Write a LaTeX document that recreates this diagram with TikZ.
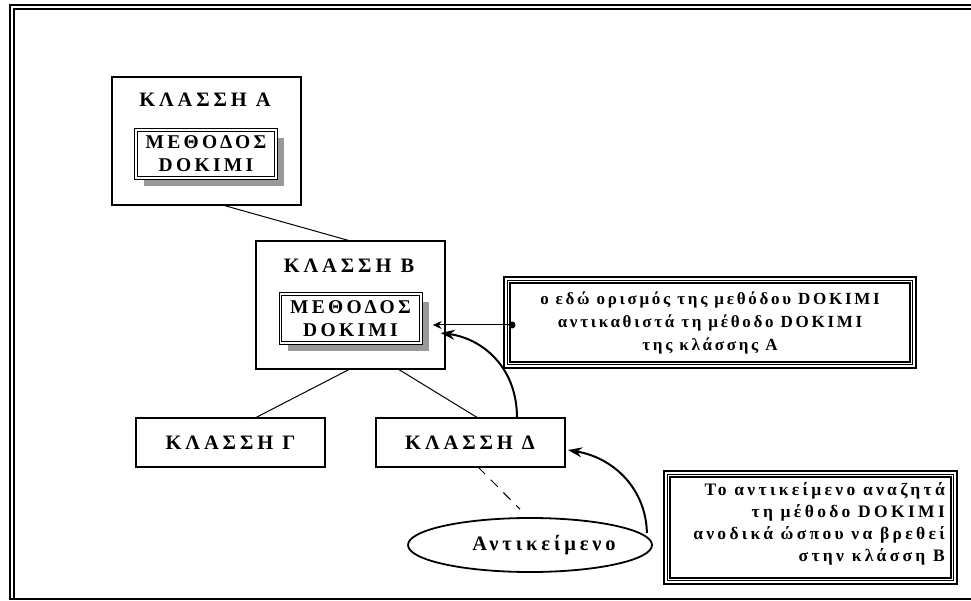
\documentclass[tikz,border=0pt]{standalone}
\usepackage{fontspec}
\setmainfont{Liberation Serif}
\newfontfamily\tfont[LetterSpace=19]{Liberation Serif}
\newfontfamily\mfont[LetterSpace=17]{Liberation Serif}
\newfontfamily\nfont[LetterSpace=16]{Liberation Serif}
\newfontfamily\qfont[LetterSpace=19]{Liberation Serif}
\usetikzlibrary{arrows.meta,shapes.geometric,shadows}
\begin{document}
\begin{tikzpicture}[x=1pt,y=-1pt,
  classbox/.style={draw,line width=2pt,inner sep=0pt,outer sep=0pt,minimum width=189pt,font=\tfont\bfseries\fontsize{20.5}{23}\selectfont},
  bigtxt/.style={font=\tfont\bfseries\fontsize{20.5}{23}\selectfont,inner sep=0pt},
  methbox/.style={draw,line width=1pt,double,double distance=1.6pt,fill=white,outer sep=0pt,inner sep=0pt,
    minimum width=140.4pt,minimum height=48.4pt,align=center,font=\mfont\bfseries\fontsize{19.5}{23}\selectfont,
    drop shadow={shadow xshift=8pt,shadow yshift=-8pt,fill=black!40,opacity=1}},
  notebox/.style={draw,line width=2.2pt,double,double distance=4pt,outer sep=0pt,inner sep=0pt},
  midline/.style={line width=0.9pt},
  notetxt/.style={font=\nfont\bfseries\fontsize{17}{23}\selectfont,inner sep=0pt},
  link/.style={line width=1pt},
  bendarrow/.style={line width=2pt,-{Stealth[length=14pt,width=10pt]}}
]
\useasboundingbox (0,0) rectangle (971,601);
% outer frame
\draw[line width=2pt] (971,5) -- (10,5) -- (10,599) -- (971,599);
\draw[line width=2pt] (971,9.5) -- (13.8,9.5) -- (13.8,598);

% classes
\node[classbox,minimum height=128pt] (A) at (206.5,141) {};
\node[bigtxt] (At) at (205,100) {ΚΛΑΣΣΗ Α};
\node[methbox] (Am) at (206,154) {ΜΕΘΟΔΟΣ\\DOKIMI};

\node[classbox,minimum height=128pt] (B) at (350.5,305) {};
\node[bigtxt] (Bt) at (349,266) {ΚΛΑΣΣΗ Β};
\node[methbox] (Bm) at (350.5,318.5) {ΜΕΘΟΔΟΣ\\DOKIMI};

\node[classbox,minimum height=49pt] (G) at (230.5,442.5) {ΚΛΑΣΣΗ Γ};
\node[classbox,minimum height=49pt] (D) at (470,442.5) {ΚΛΑΣΣΗ Δ};

\node[draw,ellipse,line width=1.8pt,minimum width=244pt,minimum height=54pt,inner sep=0pt] (O) at (530,545) {};
\node[bigtxt] (Ot) at (544,545) {Αντικείμενο};

% notes
\node[notebox,minimum width=405.6pt,minimum height=84.6pt,align=center,notetxt] (N1) at (710,322.5)
  {ο εδώ ορισμός της μεθόδου DOKIMI\\αντικαθιστά τη μέθοδο DOKIMI\\της κλάσσης Α};
\draw[midline] (N1.north west) rectangle (N1.south east);

\node[notebox,minimum width=286.6pt,minimum height=106.6pt] (N2) at (810.5,527.5) {};
\draw[midline] (N2.north west) rectangle (N2.south east);
\node[inner sep=0pt,align=right,anchor=east,font=\qfont\bfseries\fontsize{17.5}{22}\selectfont] (N2t) at (945,524)
  {Το αντικείμενο αναζητά\\τη μέθοδο DOKIMI\\ανοδικά ώσπου να βρεθεί\\στην κλάσση Β};

% connectors
\draw[link] ([xshift=16pt]A.south) -- (B.north);
\draw[link] ([xshift=-0.5pt]B.south) -- ([xshift=24.5pt]G.north);
\draw[link] ([xshift=47.5pt]B.south) -- ([xshift=8pt]D.north);
\draw[link,dash pattern=on 10pt off 8pt] ([xshift=8pt]D.south) -- ([xshift=-10pt,yshift=8pt]O.north);

\coordinate (dot) at (512,325);
\fill (dot) circle (3.5pt);
\draw[link,-{Stealth[length=9pt,width=8pt]}] (dot) -- ([xshift=12pt,yshift=-6.5pt]Bm.east);

\draw[bendarrow] ([xshift=47pt]D.north) .. controls (517,365) and (480,338) .. ([xshift=20pt,yshift=-14.5pt]Bm.east);
\draw[bendarrow] ([xshift=-6pt,yshift=12pt]O.east) .. controls (646,490) and (615,458) .. ([xshift=3.5pt,yshift=-7.5pt]D.east);
\end{tikzpicture}
\end{document}
